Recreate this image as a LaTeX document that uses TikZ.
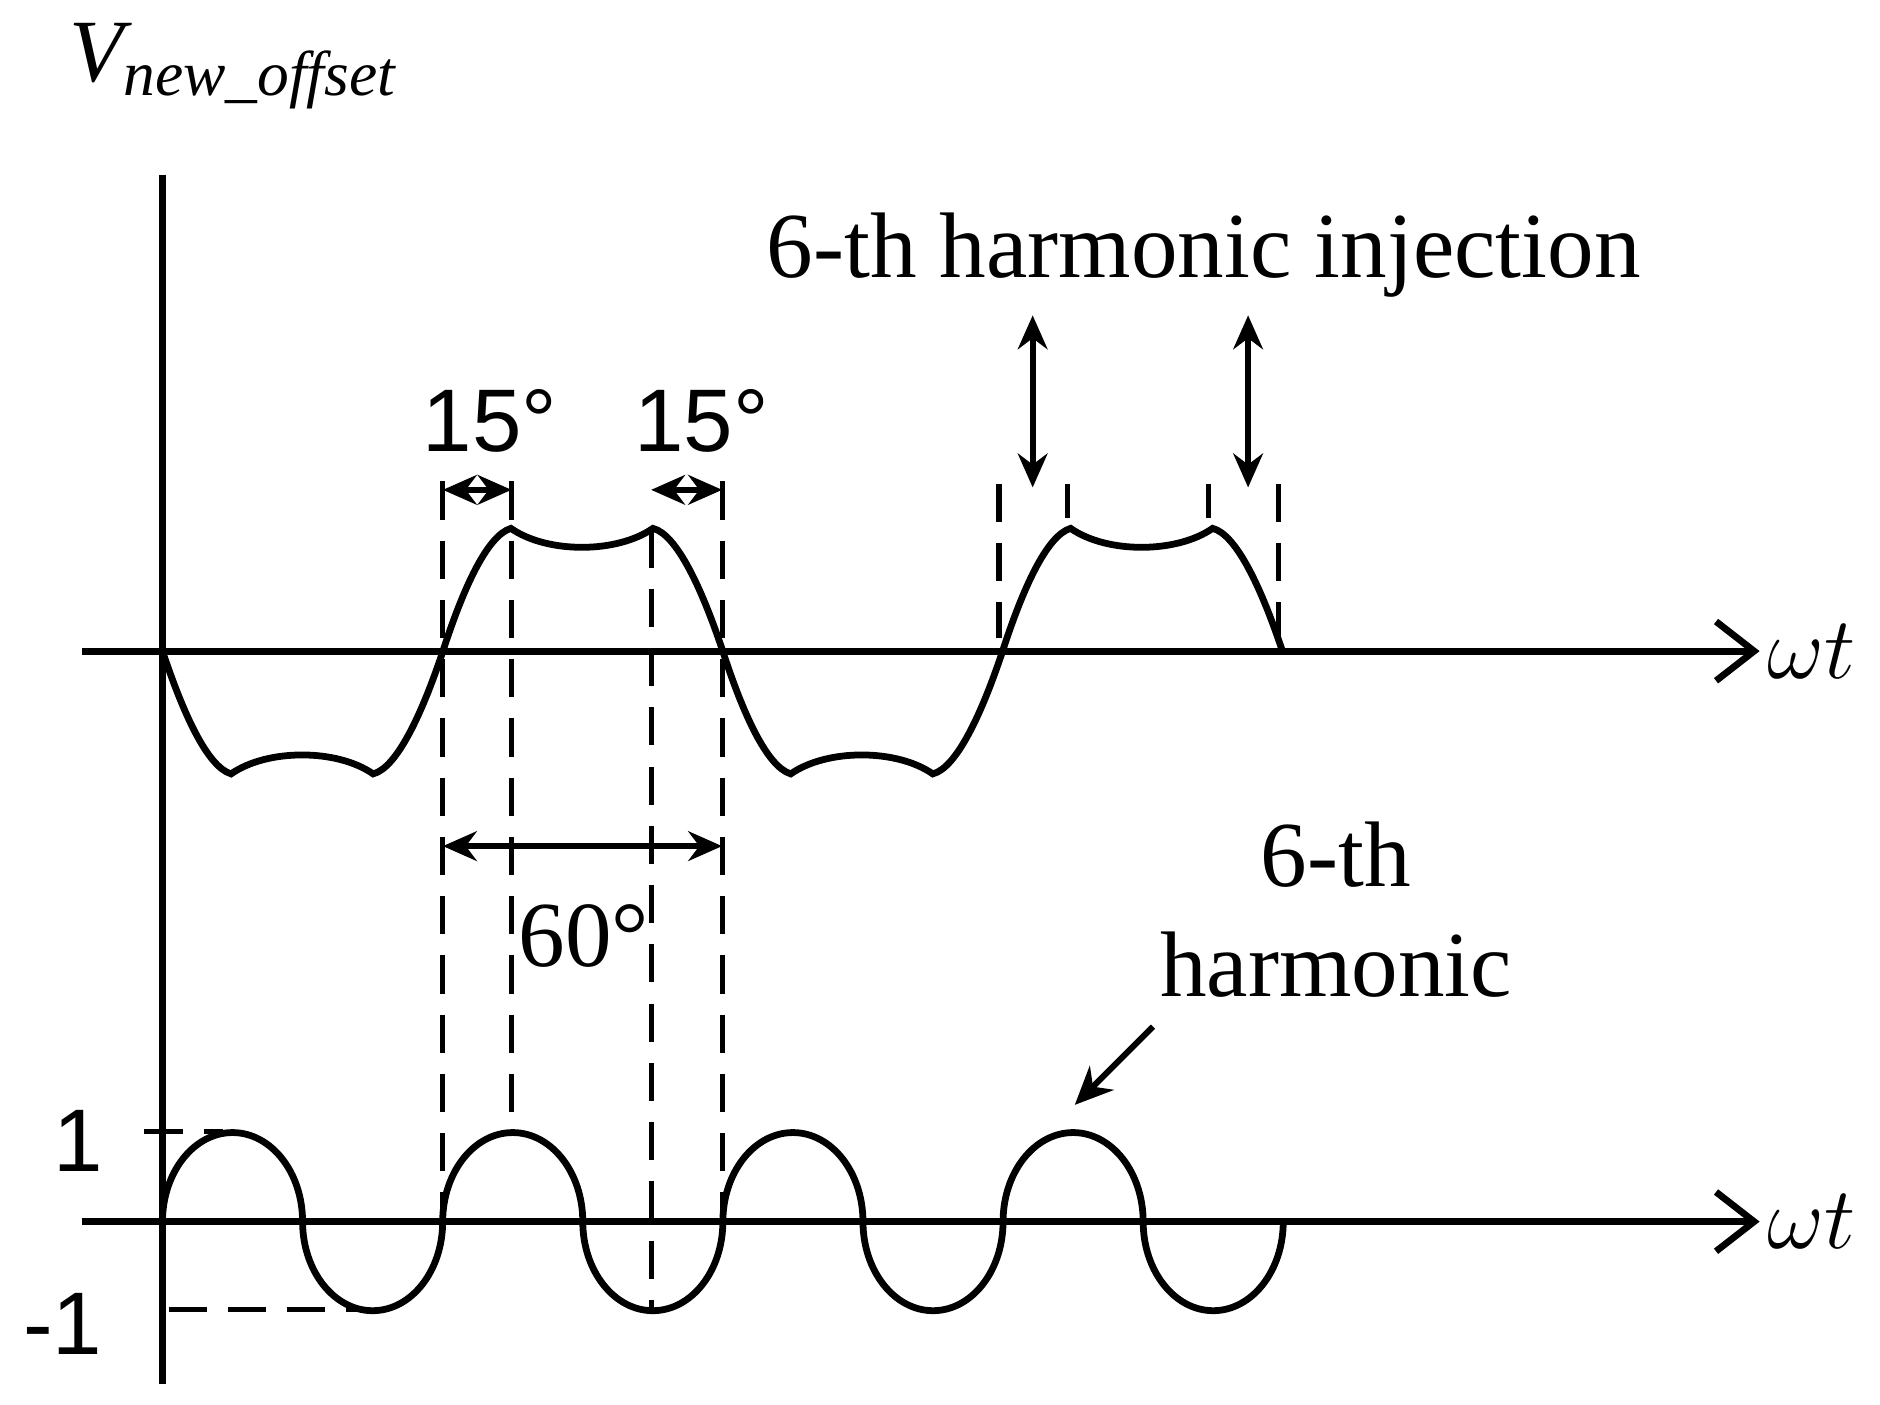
\documentclass[tikz,border=0pt]{standalone}
\usepackage{fontspec}
\setmainfont{Liberation Serif}
\newfontfamily\sansf{Liberation Sans}
\usetikzlibrary{arrows.meta}
\tikzset{
  axis/.style={line width=1.6pt,-{Straight Barb[length=9pt,width=14pt]}},
  wave/.style={line width=1.6pt},
  guide/.style={line width=1.2pt,dash pattern=on 9pt off 5pt},
  dim/.style={line width=1.4pt,{Stealth[length=8pt,width=7pt]}-{Stealth[length=8pt,width=7pt]}},
  point/.style={line width=1.4pt,-{Stealth[length=9pt,width=8pt]}},
  big/.style={font=\fontsize{22}{26}\selectfont},
  bigsans/.style={font=\sansf\fontsize{21}{25}\selectfont}
}
\begin{document}
\begin{tikzpicture}[x=0.01cm,y=-0.01cm]
\useasboundingbox (0,0) rectangle (1562,1167);
% axes
\draw[line width=1.6pt] (135,145) -- (135,1150);
\coordinate (ua0) at (68,541); \coordinate (ua1) at (1462,541);
\coordinate (la0) at (68,1015); \coordinate (la1) at (1462,1015);
\draw[axis] (ua0) -- (ua1);
\draw[axis] (la0) -- (la1);
\node[font=\itshape\fontsize{22}{26}\selectfont] (wt1) at (1505,541) {$\omega t$};
\node[font=\itshape\fontsize{22}{26}\selectfont] (wt2) at (1505,1015) {$\omega t$};
\node[anchor=west,font=\itshape\fontsize{21}{25}\selectfont] (vlab) at (45,55) {V\textsubscript{\fontsize{15}{18}\selectfont new\_offset}};
% upper waveform
\draw[wave] (135,541)
  \foreach \s/\d in {0/1,232.5/-1,465/1,697.5/-1} {
    .. controls (152+\s,541+51*\d) and (172+\s,541+96*\d) .. (192+\s,541+102*\d)
    .. controls (222+\s,541+81*\d) and (280+\s,541+81*\d) .. (310+\s,541+102*\d)
    .. controls (330+\s,541+97*\d) and (351+\s,541+51*\d) .. (368+\s,541)
  };
% 6th harmonic
\draw[wave] (135,1015)
  \foreach \k in {1,...,4} {
    arc[start angle=180,end angle=360,x radius=58.2,y radius=74]
    arc[start angle=180,end angle=0,x radius=58.2,y radius=74]
  };
% guides
\draw[guide] (368,400) -- (368,1015);
\draw[guide] (425,400) -- (425,940);
\draw[guide] (541,440) -- (541,1088);
\draw[guide] (600,400) -- (600,1015);
\draw[guide] (830,402) -- (830,530);
\draw[guide] (1062,402) -- (1062,530);
\draw[guide] (887,402) -- (887,430);
\draw[guide] (1004,402) -- (1004,430);
\draw[guide] (120,940) -- (185,940);
\draw[guide] (140,1088) -- (300,1088);
% dimensions
\coordinate (d1a) at (368,407); \coordinate (d1b) at (425,407);
\coordinate (d2a) at (541,407); \coordinate (d2b) at (600,407);
\coordinate (d3a) at (368,703); \coordinate (d3b) at (600,703);
\draw[dim] (d1a) -- (d1b);
\draw[dim] (d2a) -- (d2b);
\draw[dim] (d3a) -- (d3b);
\node[bigsans] (a15l) at (407,350) {15°};
\node[bigsans] (a15r) at (583,350) {15°};
\node[big] (a60) at (485,778) {60°};
% labels
\node[big] (inj) at (1000,212) {6-th harmonic injection};
\coordinate (i1a) at (858,262); \coordinate (i1b) at (858,405);
\coordinate (i2a) at (1037,262); \coordinate (i2b) at (1037,405);
\draw[dim] (i1a) -- (i1b);
\draw[dim] (i2a) -- (i2b);
\node[big,align=center] (harm) at (1110,756) {6-th\\harmonic};
\coordinate (h0) at (958,853); \coordinate (h1) at (893,918);
\draw[point] (h0) -- (h1);
\node[bigsans] (one) at (65,948) {1};
\node[bigsans] (mone) at (52,1100) {-1};
\end{tikzpicture}
\end{document}
